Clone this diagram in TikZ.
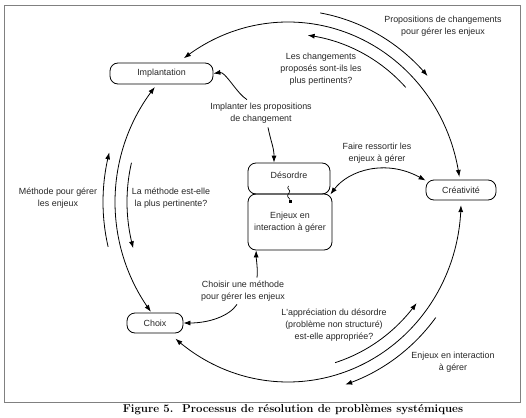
\documentclass[tikz,border=0pt]{standalone}
\usepackage{fontspec}
\newfontfamily\labfont{Liberation Sans}
\usetikzlibrary{arrows.meta,calc}
\begin{document}
\begin{tikzpicture}[x=1pt,y=-1pt,
  lab/.style={font=\labfont\fontsize{8.9}{12}\selectfont, align=center, inner sep=0pt, text=black!85},
  box/.style={draw, rounded corners=8pt, line width=0.8pt, inner sep=0pt, font=\labfont\fontsize{8.9}{12}\selectfont, align=center, text=black!85},
  arr/.style={-{Latex[length=7pt,width=5pt]}, line width=0.8pt},
  darr/.style={{Latex[length=7pt,width=5pt]}-{Latex[length=7pt,width=5pt]}, line width=0.8pt}]
\useasboundingbox (0,0) rectangle (526,417);
\clip (0,0) rectangle (526,417);
\draw[gray, line width=0.9pt] (4,5) rectangle (520,402);

% boxes
\node[box, minimum width=103pt, minimum height=21pt] (impl) at (161.5,73.5) {Implantation};
\node[box, minimum width=70pt, minimum height=20pt] (crea) at (461,190) {Créativité};
\node[box, minimum width=56pt, minimum height=20pt] (choix) at (155,323) {Choix};
\node[box, minimum width=82pt, minimum height=31pt] (des) at (289,178.5) {\raisebox{3pt}[\height][\depth]{Désordre}};
\node[box, minimum width=84pt, minimum height=56pt] (enj) at (290,222) {Enjeux en\\interaction à gérer};

% labels
\node[lab] (propTxt) at (443,26.5) {Propositions de changements\\pour gérer les enjeux};
\node[lab] (lesChTxt) at (321,69) {Les changements\\proposés sont-ils les\\plus pertinents?};
\node[lab] (implTxt) at (261,113) {Implanter les propositions\\de changement};
\node[lab] (faireTxt) at (377,153.5) {Faire ressortir les\\enjeux à gérer};
\node[lab] (methTxt) at (58,198) {Méthode pour gérer\\les enjeux};
\node[lab] (laMethTxt) at (171,198) {La méthode est-elle\\la plus pertinente?};
\node[lab] (choisirTxt) at (243,291) {Choisir une méthode\\pour gérer les enjeux};
\node[lab] (apprTxt) at (334,325.5) {L'appréciation du désordre\\(problème non structuré)\\est-elle appropriée?};
\node[lab] (enjTxt) at (453,362) {Enjeux en interaction\\à gérer};

% main cycle arcs (ellipse centre (288,202), radii 173 x 180)
\draw[darr] plot[domain=-127:-8, samples=90] ({288+173*cos(\x)},{202+180*sin(\x)});
\draw[darr] plot[domain=142.4:219.7, samples=60] ({288+173*cos(\x)},{202+180*sin(\x)});
\draw[darr] plot[domain=1:130.6, samples=90] ({288+173*cos(\x)},{202+180*sin(\x)});

% parallel arcs
\draw[arr] plot[domain=-80:-41, samples=40] ({288+185*cos(\x)},{202+192*sin(\x)});
\draw[arr] plot[domain=-43:-83, samples=40] ({288+161*cos(\x)},{202+168*sin(\x)});
\draw[arr] plot[domain=166.5:195, samples=30] ({288+185*cos(\x)},{202+192*sin(\x)});
\draw[arr] plot[domain=193.5:164, samples=30] ({288+161*cos(\x)},{202+168*sin(\x)});
\draw[arr] plot[domain=73:37, samples=40] ({288+161*cos(\x)},{202+168*sin(\x)});
\draw[arr] plot[domain=37:72, samples=40] ({288+185*cos(\x)},{202+192*sin(\x)});

% inner connectors
\coordinate (implStart) at ($(implTxt.north)+(-14,-3)$);
\draw[arr] (implStart) .. controls +(-10,-6) and +(12,-2) .. (impl.east);
\coordinate (desStart) at ($(implTxt.south)+(7,4)$);
\draw[arr] (desStart) .. controls +(3,15) and +(0,-15) .. ($(des.north)+(-15,0)$);
\draw[darr] (des.south east) .. controls +(18,-24) and +(-40,-22) .. (crea.165);
\coordinate (chStart) at ($(choisirTxt.north)+(14,-3)$);
\draw[arr] (chStart) .. controls +(1,-8) and +(0,8) .. (enj.220);
\coordinate (chStart2) at ($(choisirTxt.south)+(-6,3)$);
\draw[arr] (chStart2) .. controls +(-8,12) and +(25,0) .. (choix.east);

% squiggle between Désordre and Enjeux
\draw[line width=0.6pt] (288.5,186) .. controls (285.5,189) and (292,190) .. (289,193) .. controls (286,196) and (288.5,198) .. (290,199.5);
\fill (289,199.5) rectangle (292,202.5);

% caption
\node[anchor=north, font=\bfseries\fontsize{11.4}{13}\selectfont, inner sep=0pt] (cap) at (293,404.5) {Figure 5.\ \ Processus de résolution de problèmes systémiques};
\end{tikzpicture}
\end{document}
